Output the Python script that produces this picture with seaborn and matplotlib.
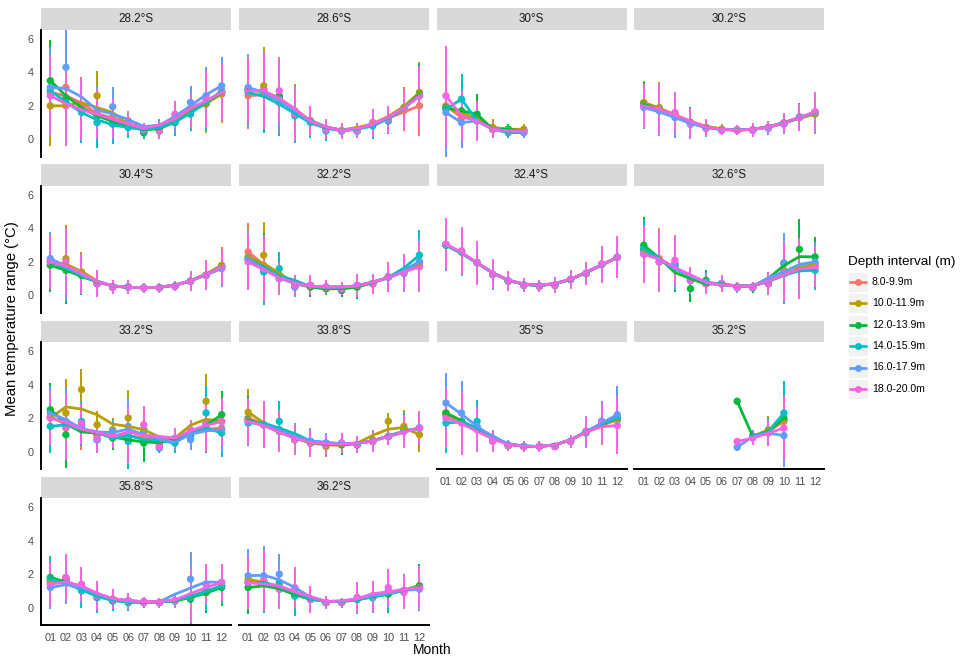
import numpy as np
import pandas as pd
import seaborn as sns
import matplotlib.pyplot as plt
from matplotlib.lines import Line2D
from matplotlib.patches import Rectangle

nan = np.nan
N6 = [nan] * 6

panels = ["28.2°S", "28.6°S", "30°S", "30.2°S", "30.4°S", "32.2°S", "32.4°S",
          "32.6°S", "33.2°S", "33.8°S", "35°S", "35.2°S", "35.8°S", "36.2°S"]
depths = ["8.0-9.9m", "10.0-11.9m", "12.0-13.9m", "14.0-15.9m", "16.0-17.9m", "18.0-20.0m"]
colors = ["#F8766D", "#B79F00", "#00BA38", "#00BFC4", "#619CFF", "#F564E3"]
months = list(range(1, 13))
month_labels = ["%02d" % m for m in months]

# mean temperature range per panel (rows) and month (columns), one list per depth
d08 = [
    [2.8, 3.1, 1.9, 1.5, 1.2, 1.1, 0.5, 0.6, 1.3, 1.7, 2.3, 2.8],
    [2.6, 3.0, 2.4, 1.6, 1.1, 0.6, 0.5, 0.5, 0.9, 1.2, 1.7, 2.0],
    [2.0, 1.3, 1.2, 0.7, 0.6, 0.5] + N6,
    [2.1, 1.8, 1.5, 1.0, 0.7, 0.6, 0.55, 0.55, 0.7, 1.0, 1.3, 1.6],
    [2.1, 1.7, 1.3, 0.7, 0.5, 0.5, 0.45, 0.45, 0.55, 0.85, 1.2, 1.7],
    [2.6, 1.8, 1.1, 0.6, 0.6, 0.5, 0.4, 0.6, 0.7, 1.1, 1.4, 1.8],
    [3.05, 2.65, 1.95, 1.26, 0.86, 0.62, 0.56, 0.62, 0.96, 1.32, 1.87, 2.28],
    [2.6, 2.2, 1.8, 0.9, 0.7, 0.7, 0.5, 0.5, 0.7, 1.3, 1.6, 1.8],
    [2.1, 1.4, 1.3, 1.0, 0.9, 1.0, 0.9, 0.6, 0.7, 0.9, 1.7, 1.4],
    [2.0, 1.6, 1.3, 0.8, 0.6, 0.4, 0.5, 0.4, 0.6, 0.9, 1.2, 1.4],
    [2.2, 1.8, 1.4, 0.7, 0.35, 0.3, 0.3, 0.3, 0.6, 1.2, 1.6, 1.9],
    N6 + [nan, 0.9, 1.2, 1.8, nan, nan],
    [1.5, 1.7, 1.2, 0.7, 0.5, 0.4, 0.35, 0.3, 0.4, 0.6, 1.0, 1.3],
    [1.5, 1.6, 1.3, 1.0, 0.5, 0.3, 0.3, 0.5, 0.7, 0.9, 1.0, 1.2],
]
d10 = [
    [2.0, 2.2, 1.8, 2.6, 1.3, 0.9, 0.4, 0.5, 1.2, 1.6, 2.1, 2.7],
    [2.9, 3.2, 2.5, 1.7, 1.1, 0.6, 0.5, 0.6, 1.0, 1.2, 1.9, 2.8],
    [1.9, 1.6, 1.2, 0.7, 0.6, 0.6] + N6,
    [2.2, 1.9, 1.5, 1.0, 0.7, 0.6, 0.55, 0.55, 0.7, 0.95, 1.3, 1.5],
    [2.0, 2.2, 1.4, 0.7, 0.5, 0.5, 0.45, 0.45, 0.55, 0.85, 1.2, 1.8],
    [2.3, 2.4, 1.0, 0.6, 0.5, 0.4, 0.3, 0.5, 0.7, 1.1, 1.4, 1.8],
    [3.0, 2.6, 1.95, 1.25, 0.85, 0.6, 0.55, 0.6, 0.95, 1.3, 1.85, 2.28],
    [2.7, 2.0, 1.9, 0.9, 0.7, 0.7, 0.5, 0.5, 0.7, 1.5, 1.6, 1.9],
    [2.0, 2.3, 3.7, 1.6, 1.3, 2.0, 1.2, 0.7, 0.7, 1.0, 3.0, 1.8],
    [2.35, 1.6, 1.2, 0.7, 0.5, 0.3, 0.4, 0.4, 0.7, 1.8, 1.5, 1.0],
    [2.3, 1.8, 1.4, 0.65, 0.35, 0.3, 0.3, 0.3, 0.6, 1.2, 1.7, 1.9],
    N6 + [nan, 0.9, 1.3, 1.9, nan, nan],
    [1.6, 1.8, 1.2, 0.7, 0.5, 0.4, 0.35, 0.3, 0.4, 0.6, 1.0, 1.3],
    [1.7, 1.6, 1.2, 0.8, 0.5, 0.3, 0.3, 0.5, 0.7, 0.9, 1.0, 1.3],
]
d12 = [
    [3.5, 2.5, 1.8, 1.4, 1.0, 0.8, 0.4, 0.5, 1.0, 1.6, 2.2, 2.8],
    [3.0, 2.9, 2.6, 1.6, 1.1, 0.6, 0.5, 0.5, 0.9, 1.1, 1.8, 2.7],
    [1.9, 1.7, 1.5, 0.6, 0.6, 0.5] + N6,
    [2.1, 1.8, 1.4, 1.0, 0.7, 0.55, 0.55, 0.55, 0.7, 0.95, 1.3, 1.6],
    [1.8, 1.5, 1.2, 0.7, 0.5, 0.5, 0.45, 0.45, 0.55, 0.85, 1.2, 1.7],
    [2.2, 1.7, 1.2, 0.6, 0.5, 0.4, 0.3, 0.5, 0.7, 1.1, 1.4, 2.0],
    [3.0, 2.6, 1.95, 1.25, 0.85, 0.6, 0.55, 0.6, 0.95, 1.3, 1.85, 2.28],
    [3.0, 2.0, 1.7, 0.4, 0.9, 0.7, 0.5, 0.45, 0.7, 1.9, 2.75, 2.3],
    [2.5, 1.0, 1.5, 1.0, 0.8, 0.8, 0.5, 0.4, 0.7, 1.0, 1.5, 2.2],
    [1.9, 1.6, 1.2, 0.7, 0.5, 0.4, 0.4, 0.4, 0.6, 0.9, 1.3, 1.4],
    [2.3, 1.8, 1.4, 0.65, 0.35, 0.3, 0.3, 0.3, 0.6, 1.2, 1.7, 2.0],
    N6 + [3.0, 0.9, 1.2, 2.0, nan, nan],
    [1.8, 1.7, 1.1, 0.6, 0.4, 0.3, 0.3, 0.3, 0.4, 0.5, 0.9, 1.2],
    [1.2, 1.6, 1.1, 0.7, 0.5, 0.3, 0.3, 0.5, 0.6, 0.8, 1.0, 1.3],
]
d14 = [
    [2.9, 2.2, 1.6, 1.0, 0.9, 0.7, 0.5, 0.6, 1.0, 1.5, 2.2, 2.9],
    [2.8, 2.7, 2.2, 1.4, 1.0, 0.5, 0.5, 0.5, 0.8, 1.1, 1.8, 2.6],
    [1.8, 2.4, 1.1, 0.6, 0.4, 0.4] + N6,
    [2.0, 1.7, 1.4, 0.9, 0.65, 0.55, 0.55, 0.55, 0.7, 0.95, 1.35, 1.6],
    [2.0, 1.6, 1.3, 0.7, 0.5, 0.5, 0.45, 0.45, 0.55, 0.85, 1.2, 1.7],
    [2.1, 1.4, 1.6, 0.5, 0.6, 0.5, 0.4, 0.6, 0.7, 1.1, 1.4, 2.4],
    [3.0, 2.6, 1.95, 1.25, 0.85, 0.6, 0.55, 0.6, 0.95, 1.3, 1.85, 2.28],
    [2.8, 2.0, 1.8, 0.9, 0.8, 0.7, 0.5, 0.5, 0.7, 1.3, 1.6, 1.5],
    [1.5, 1.5, 1.8, 0.7, 1.0, 0.6, 1.3, 0.2, 0.5, 0.8, 2.3, 1.1],
    [1.7, 1.6, 1.8, 0.8, 0.6, 0.5, 0.5, 0.4, 0.6, 0.9, 1.3, 1.4],
    [1.7, 1.8, 1.8, 0.65, 0.35, 0.3, 0.3, 0.3, 0.6, 1.2, 1.8, 2.0],
    N6 + [nan, 0.9, 1.2, 2.3, nan, nan],
    [1.7, 1.6, 1.0, 0.6, 0.4, 0.3, 0.3, 0.3, 0.4, 0.6, 1.0, 1.3],
    [1.5, 1.5, 1.5, 0.7, 0.5, 0.3, 0.3, 0.5, 0.6, 0.9, 1.0, 1.2],
]
d16 = [
    [3.1, 4.3, 1.7, 1.6, 1.95, 1.0, 0.6, 0.7, 1.2, 2.2, 2.6, 3.2],
    [3.1, 2.9, 2.4, 1.6, 1.1, 0.6, 0.5, 0.5, 0.9, 1.2, 1.8, 2.6],
    [1.6, 1.0, 1.1, 0.6, 0.5, 0.4] + N6,
    [1.9, 1.7, 1.3, 0.9, 0.65, 0.55, 0.55, 0.55, 0.65, 0.9, 1.3, 1.6],
    [2.2, 1.7, 1.3, 0.7, 0.5, 0.5, 0.45, 0.45, 0.55, 0.85, 1.2, 1.6],
    [2.2, 1.6, 1.0, 0.5, 0.6, 0.5, 0.4, 0.6, 0.7, 1.1, 1.3, 2.0],
    [3.05, 2.65, 1.95, 1.26, 0.86, 0.62, 0.56, 0.62, 0.96, 1.32, 1.87, 2.28],
    [2.5, 2.0, 1.9, 0.9, 0.7, 0.7, 0.45, 0.5, 0.7, 1.95, 1.6, 2.0],
    [2.3, 1.8, 1.6, 0.7, 1.2, 1.5, 1.3, 0.25, 0.7, 0.7, 1.7, 1.3],
    [1.8, 1.6, 1.3, 0.8, 0.6, 0.5, 0.5, 0.4, 0.6, 0.9, 1.2, 1.4],
    [2.9, 2.3, 1.5, 0.7, 0.4, 0.3, 0.3, 0.3, 0.6, 1.1, 1.8, 2.2],
    N6 + [0.25, 0.9, 1.1, 0.95, nan, nan],
    [1.2, 1.6, 1.3, 0.7, 0.5, 0.4, 0.35, 0.3, 0.4, 1.7, 1.4, 1.5],
    [1.9, 1.9, 2.0, 1.1, 0.5, 0.3, 0.3, 0.6, 0.6, 1.0, 1.0, 1.1],
]
d18 = [
    [2.6, 2.0, 1.8, 1.5, 1.2, 0.9, 0.6, 0.5, 1.5, 1.7, 2.4, 2.8],
    [2.9, 2.9, 2.9, 1.5, 1.1, 0.6, 0.5, 0.5, 1.0, 1.2, 1.8, 2.6],
    [2.6, 1.4, 1.1, 0.6, 0.5, 0.5] + N6,
    [2.0, 1.8, 1.6, 0.95, 0.7, 0.55, 0.55, 0.55, 0.7, 0.95, 1.3, 1.65],
    [2.0, 2.0, 1.3, 0.7, 0.5, 0.5, 0.45, 0.45, 0.55, 0.85, 1.2, 1.7],
    [2.0, 1.6, 1.0, 0.6, 0.6, 0.5, 0.4, 0.6, 0.7, 1.1, 1.4, 1.7],
    [3.05, 2.65, 1.95, 1.26, 0.86, 0.62, 0.56, 0.62, 0.96, 1.32, 1.87, 2.28],
    [2.45, 2.0, 2.1, 0.9, 0.7, 0.7, 0.5, 0.5, 0.7, 1.4, 1.6, 1.7],
    [2.0, 1.5, 1.7, 0.8, 0.9, 1.0, 1.6, 0.3, 0.8, 1.3, 1.6, 1.8],
    [1.8, 1.6, 1.2, 0.7, 0.5, 0.4, 0.5, 0.4, 0.6, 0.9, 1.2, 1.4],
    [2.0, 1.7, 1.3, 0.6, 0.35, 0.3, 0.3, 0.3, 0.6, 1.2, 1.7, 1.55],
    N6 + [0.6, 0.8, 1.1, 1.4, nan, nan],
    [1.4, 1.8, 1.4, 0.7, 0.5, 0.4, 0.35, 0.3, 0.4, 0.7, 1.4, 1.5],
    [1.5, 1.6, 1.1, 1.2, 0.5, 0.3, 0.3, 0.6, 0.7, 1.2, 0.9, 1.2],
]
# half length of the error bars per panel and month
err_half = [
    [2.4, 2.4, 1.8, 1.5, 1.2, 0.6, 0.4, 0.5, 0.8, 1.0, 1.7, 1.7],
    [2.0, 2.3, 2.0, 1.6, 0.9, 0.6, 0.5, 0.4, 0.8, 0.8, 1.2, 1.8],
    [3.0, 1.5, 1.2, 0.5, 0.3, 0.3] + N6,
    [1.3, 1.5, 1.2, 0.9, 0.5, 0.3, 0.3, 0.4, 0.4, 0.6, 0.8, 1.2],
    [1.6, 2.0, 1.2, 0.8, 0.4, 0.4, 0.3, 0.3, 0.3, 0.6, 0.9, 1.1],
    [1.7, 2.0, 1.0, 0.6, 0.6, 0.4, 0.4, 0.7, 0.6, 0.9, 1.1, 1.5],
    [1.55, 1.45, 1.3, 0.9, 0.6, 0.4, 0.35, 0.45, 0.55, 0.7, 1.1, 1.27],
    [1.7, 1.8, 1.5, 0.8, 0.6, 0.5, 0.3, 0.3, 0.7, 1.8, 1.8, 1.2],
    [1.6, 2.0, 1.2, 0.8, 0.7, 1.7, 1.1, 0.3, 0.6, 0.6, 1.6, 1.4],
    [1.4, 1.4, 1.2, 0.9, 0.8, 0.6, 0.6, 0.5, 0.6, 0.5, 1.0, 1.0],
    [1.8, 1.9, 1.3, 0.6, 0.3, 0.3, 0.3, 0.2, 0.4, 0.9, 1.2, 1.7],
    N6 + [0.2, 0.4, 0.8, 1.9, nan, nan],
    [1.3, 1.4, 1.0, 0.9, 0.6, 0.5, 0.3, 0.3, 0.4, 1.6, 1.2, 1.1],
    [1.6, 1.8, 1.2, 1.2, 0.8, 0.4, 0.3, 0.9, 0.9, 1.1, 1.0, 1.3],
]
series = [d08, d10, d12, d14, d16, d18]


def smooth(v):
    # smoothed fitted line, like the loess curve of the original
    v = np.asarray(v, float)
    idx = np.where(~np.isnan(v))[0]
    if len(idx) < 10:
        return v
    out = v.copy()
    for a, b, c in zip(idx[:-2], idx[1:-1], idx[2:]):
        out[b] = (v[a] + v[b] + v[c]) / 3
    return out


rows = []
for pi, p in enumerate(panels):
    for di, d in enumerate(depths):
        vals = series[di][pi]
        line = smooth(vals)
        for mi, m in enumerate(months):
            if np.isnan(vals[mi]):
                continue
            rows.append(dict(panel=p, depth=d, month=m, value=vals[mi],
                             line=line[mi], err=err_half[pi][mi], color=colors[di]))
df = pd.DataFrame(rows)
pal = dict(zip(depths, colors))

sns.set_style("white")
plt.rcParams["font.family"] = ["Liberation Sans", "DejaVu Sans"]

W, H = 964, 661
fig = plt.figure(figsize=(W / 100, H / 100), dpi=100)


def fbox(x, y, w, h):
    return [x / W, 1 - (y + h) / H, w / W, h / H]


col_x = [41 + 197.8 * c for c in range(4)]
pw, strip_h, ph, row_step = 190, 21.3, 127.3, 156.1

for i, p in enumerate(panels):
    r, c = divmod(i, 4)
    top = 8.3 + row_step * r
    sax = fig.add_axes(fbox(col_x[c], top, pw, strip_h))
    sax.set_facecolor("#D9D9D9")
    sax.set_xticks([])
    sax.set_yticks([])
    for s in sax.spines.values():
        s.set_visible(False)
    sax.text(0.5, 0.5, p, ha="center", va="center", fontsize=8.4, color="#1A1A1A",
             transform=sax.transAxes)

    ax = fig.add_axes(fbox(col_x[c], top + strip_h, pw, ph))
    sub = df[df.panel == p]
    ax.vlines(sub.month, sub.value - sub.err, sub.value + sub.err,
              colors=list(sub.color), linewidth=1.2, antialiased=False, zorder=1)
    sns.scatterplot(data=sub, x="month", y="value", hue="depth", hue_order=depths,
                    palette=pal, s=28, edgecolor="none", legend=False, ax=ax, zorder=2)
    sns.lineplot(data=sub, x="month", y="line", hue="depth", hue_order=depths,
                 palette=pal, estimator=None, linewidth=2.0, legend=False, ax=ax,
                 zorder=3)
    ax.set_xlim(0.4, 12.6)
    ax.set_ylim(-1.05, 6.55)
    ax.set_xlabel("")
    ax.set_ylabel("")
    for s in ax.spines.values():
        s.set_visible(False)
    has_left = c == 0
    has_bottom = r == 3 or (r == 2 and c >= 2)
    ax.set_yticks([0, 2, 4, 6])
    ax.set_xticks(months)
    ax.set_xticklabels(month_labels)
    ax.tick_params(axis="both", colors="#333333", labelcolor="#4D4D4D", labelsize=7.8,
                   length=2.4, width=0.8, pad=3)
    if has_left:
        ax.spines["left"].set_visible(True)
        ax.spines["left"].set_linewidth(1.4)
        ax.spines["left"].set_color("black")
    else:
        ax.tick_params(axis="y", left=False, labelleft=False)
    if has_bottom:
        ax.spines["bottom"].set_visible(True)
        ax.spines["bottom"].set_linewidth(1.4)
        ax.spines["bottom"].set_color("black")
    else:
        ax.tick_params(axis="x", bottom=False, labelbottom=False)

fig.text(12 / W, 1 - 319 / H, "Mean temperature range (°C)", rotation=90,
         ha="center", va="center", fontsize=10.7, color="black")
fig.text(432 / W, 1 - 650 / H, "Month", ha="center", va="center", fontsize=10,
         color="black")

# legend
fig.text(848 / W, 1 - 261.5 / H, "Depth interval (m)", ha="left", va="center",
         fontsize=9.7, color="black")
for k, (d, col) in enumerate(zip(depths, colors)):
    yc = 281.7 + 21.45 * k
    fig.add_artist(Rectangle((848 / W, 1 - (yc + 10) / H), 20 / W, 20 / H,
                             transform=fig.transFigure, facecolor="#F2F2F2",
                             edgecolor="white", linewidth=0.6))
    fig.add_artist(Line2D([850 / W, 866 / W], [1 - yc / H] * 2, transform=fig.transFigure,
                          color=col, linewidth=2.0))
    fig.add_artist(Line2D([858 / W], [1 - yc / H], transform=fig.transFigure,
                          color=col, marker="o", markersize=5, markeredgewidth=0))
    fig.text(872 / W, 1 - yc / H, d, ha="left", va="center", fontsize=7.6,
             color="black")

fig.savefig("out.png", dpi=100)
